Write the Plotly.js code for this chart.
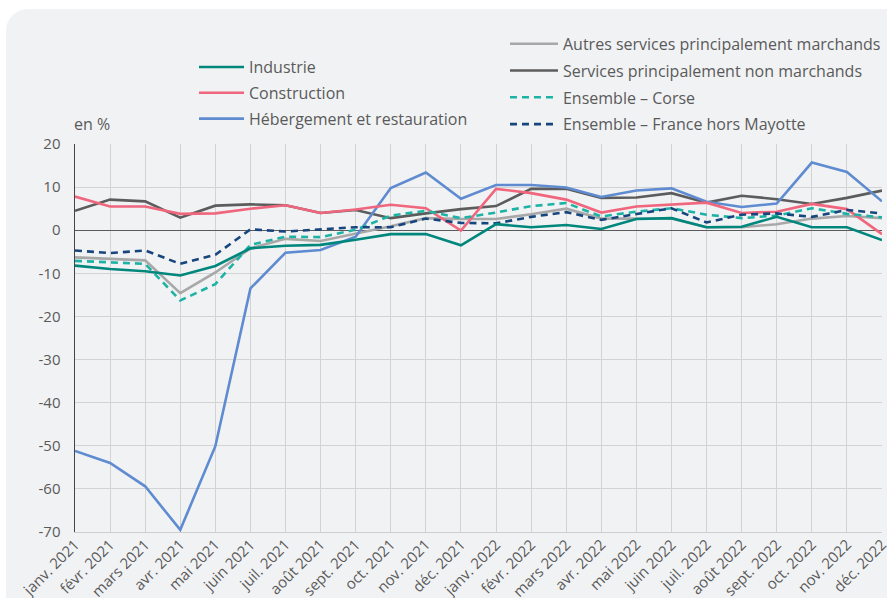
<!DOCTYPE html>
<html>
<head>
<meta charset="utf-8">
<script src="https://cdn.plot.ly/plotly-3.0.1.min.js"></script>
<style>
  html, body { margin:0; padding:0; background:#ffffff; width:887px; height:598px; overflow:hidden; }
  #panel { position:absolute; left:6px; top:9px; width:920px; height:640px; background:#f1f2f4; border-radius:22px; }
  #chart { position:absolute; left:0; top:0; width:887px; height:598px; }
</style>
</head>
<body>
<div id="panel"></div>
<div id="chart"></div>
<script>
const months = ["janv. 2021","févr. 2021","mars 2021","avr. 2021","mai 2021","juin 2021","juil. 2021","août 2021","sept. 2021","oct. 2021","nov. 2021","déc. 2021",
                "janv. 2022","févr. 2022","mars 2022","avr. 2022","mai 2022","juin 2022","juil. 2022","août 2022","sept. 2022","oct. 2022","nov. 2022","déc. 2022"];

const industrie     = [-8.2, -9.0, -9.5, -10.5, -8.3, -4.2, -3.6, -3.4, -2.2, -0.9, -0.9, -3.5, 1.4, 0.7, 1.2, 0.3, 2.6, 2.8, 0.7, 0.8, 3.1, 0.7, 0.7, -2.3];
const construction  = [7.8, 5.5, 5.5, 3.8, 3.9, 5.0, 5.8, 4.0, 4.8, 5.9, 5.1, -0.1, 9.6, 8.6, 7.1, 4.1, 5.5, 6.0, 6.4, 4.0, 4.3, 6.1, 4.9, -0.9];
const hebergement   = [-51.2, -54.0, -59.4, -69.5, -50.1, -13.5, -5.2, -4.6, -1.5, 9.8, 13.4, 7.3, 10.5, 10.5, 9.9, 7.7, 9.2, 9.7, 6.6, 5.4, 6.2, 15.7, 13.5, 6.7];
const autresServ    = [-6.3, -6.7, -7.0, -14.6, -9.8, -4.2, -2.0, -2.5, -0.8, 0.9, 2.8, 2.6, 2.6, 3.7, 5.0, 2.7, 2.7, 2.7, 0.7, 0.7, 1.4, 2.7, 3.3, 2.8];
const nonMarchands  = [4.5, 7.1, 6.7, 2.9, 5.7, 6.0, 5.8, 4.0, 4.7, 2.8, 3.9, 4.9, 5.6, 9.6, 9.6, 7.5, 7.6, 8.6, 6.4, 8.0, 7.2, 6.1, 7.5, 9.2];
const corse         = [-7.1, -7.5, -7.8, -16.3, -12.5, -3.4, -1.5, -1.6, 0.1, 3.4, 4.5, 2.8, 4.1, 5.6, 6.3, 3.2, 4.3, 5.1, 3.6, 2.8, 3.4, 5.1, 3.8, 3.0];
const france        = [-4.7, -5.3, -4.7, -7.8, -5.7, 0.2, -0.3, 0.2, 0.7, 0.7, 2.7, 1.7, 1.6, 3.1, 4.2, 2.4, 3.8, 5.1, 1.8, 3.6, 3.9, 3.1, 4.7, 3.9];

const yTicks = [-70, -60, -50, -40, -30, -20, -10, 0, 10, 20];

function tr(name, y, color, dash, legend, group, rank) {
  return { type:'scatter', mode:'lines', name:name, x:months, y:y, legend:legend, legendgroup:group, legendrank:rank,
           line:{color:color, width:2.6, dash:dash || 'solid'}, hoverinfo:'skip' };
}

const traces = [
  tr('Autres services principalement marchands', autresServ, '#a8a8a8', null, 'legend2', 'g4', 4),
  tr('Services principalement non marchands', nonMarchands, '#5c5c5c', null, 'legend2', 'g5', 5),
  tr('Hébergement et restauration', hebergement, '#5f8bd0', null, 'legend', 'g3', 3),
  tr('Construction', construction, '#f0667d', null, 'legend', 'g2', 2),
  tr('Ensemble – Corse', corse, '#1db3a4', '7px,5px', 'legend2', 'g6', 6),
  tr('Ensemble – France hors Mayotte', france, '#17457d', '7px,5px', 'legend2', 'g7', 7),
  tr('Industrie', industrie, '#00877d', null, 'legend', 'g1', 1),
];

const font = {family:'"Open Sans", sans-serif', size:15, color:'#5a5a5a'};
const legFont = {family:'"Open Sans", sans-serif', size:16, color:'#5a5a5a'};

const layout = {
  width:887, height:598,
  margin:{l:75, r:5, t:144, b:66, autoexpand:false},
  paper_bgcolor:'rgba(0,0,0,0)', plot_bgcolor:'rgba(0,0,0,0)',
  font:font,
  showlegend:true,
  legend:{x:0.1475, xanchor:'left', y:1.242, yanchor:'top', bgcolor:'rgba(0,0,0,0)',
          font:legFont, itemwidth:45, tracegroupgap:2, traceorder:'grouped', itemclick:false},
  legend2:{x:0.5328, xanchor:'left', y:1.302, yanchor:'top', bgcolor:'rgba(0,0,0,0)',
          font:legFont, itemwidth:48, tracegroupgap:3, traceorder:'grouped', itemclick:false},
  xaxis:{type:'category', categoryorder:'array', categoryarray:months, range:[0, 23],
         tickangle:-45, showgrid:true, gridcolor:'#d3d3d3', gridwidth:1, automargin:false,
         showline:true, linecolor:'#cfcfcf', linewidth:1, ticks:'', tickfont:font, ticklabelstandoff:-3,
         zeroline:false, fixedrange:true},
  yaxis:{range:[-70, 20], tickvals:yTicks, ticktext:yTicks.map(String), showgrid:true, gridcolor:'#d3d3d3', gridwidth:1,
         zeroline:true, zerolinecolor:'#5a5a5a', zerolinewidth:1, automargin:false,
         showline:true, linecolor:'#444444', linewidth:1.5, ticks:'', ticklabelstandoff:10,
         tickfont:font, fixedrange:true},
  annotations:[{text:'en %', xref:'paper', yref:'paper', x:0, y:1.0524, xanchor:'left', yanchor:'middle',
                xshift:-3, showarrow:false, font:legFont}]
};

Plotly.newPlot('chart', traces, layout, {displayModeBar:false, staticPlot:true});
</script>
</body>
</html>
